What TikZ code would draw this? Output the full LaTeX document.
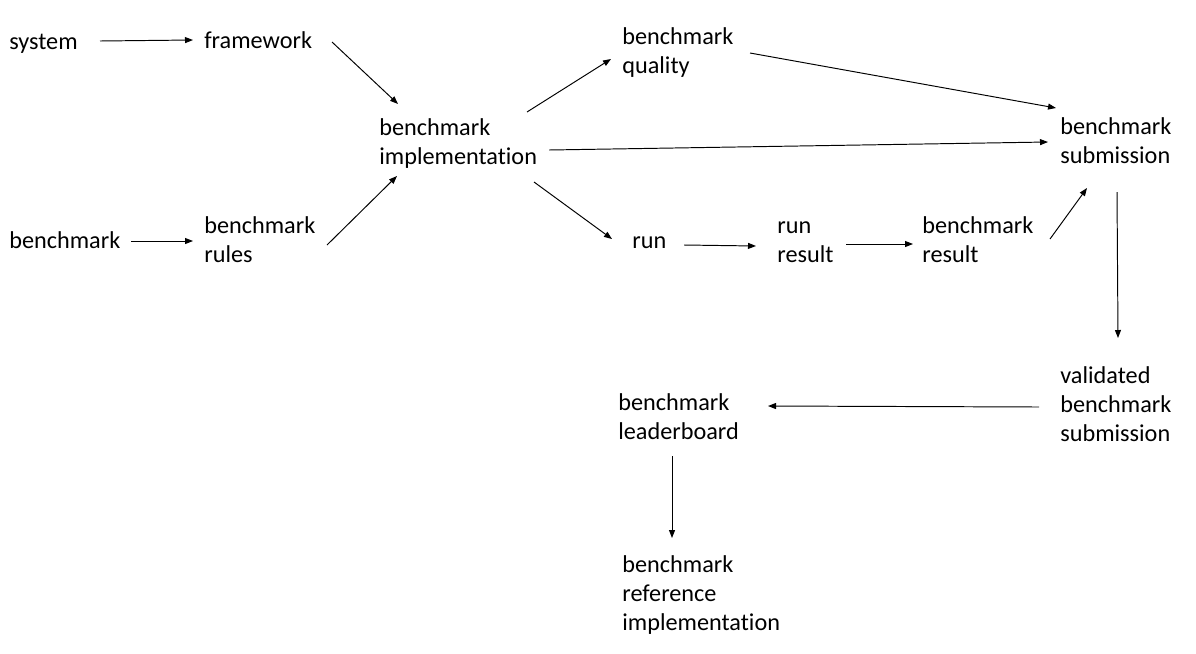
\documentclass[tikz,border=0pt]{standalone}
\usepackage{fontspec}
\setmainfont[Ligatures=NoCommon]{Carlito}
\usetikzlibrary{calc,arrows.meta}

\begin{document}
\begin{tikzpicture}[x=0.02cm, y=-0.02cm,
		lbl/.style={anchor=base west, inner sep=0, align=left, font=\fontsize{13.8}{16.44}\selectfont},
		arr/.style={line width=0.55pt, -{Triangle[length=1.6mm,width=1.2mm]}}]
			%%%%% START %%%%%
			
			\useasboundingbox (0, 0) rectangle (1196, 653);
			
			% base = last line of each label
			\node[lbl] (sys) at (9, 49) {system};
			\node[lbl] (fw) at (204, 48) {framework};
			\node[lbl] (bm) at (9, 248) {benchmark};
			\node[lbl] (rules) at (204, 262) {benchmark\\rules};
			\node[lbl] (impl) at (379, 164) {benchmark\\implementation};
			\node[lbl] (qual) at (622, 73) {benchmark\\quality};
			\node[lbl] (sub) at (1060, 163) {benchmark\\submission};
			\node[lbl] (run) at (632, 248) {run};
			\node[lbl] (rres) at (777, 262) {run\\result};
			\node[lbl] (bres) at (922, 262) {benchmark\\result};
			\node[lbl] (val) at (1060, 441) {validated\\benchmark\\submission};
			\node[lbl] (lead) at (618, 439) {benchmark\\leaderboard};
			\node[lbl] (ref) at (622, 630) {benchmark\\reference\\implementation};
			
			\draw[arr] ($(sys.base west)+(91,-8)$) -- ($(fw.base west)+(-11,-8)$);
			\draw[arr] ($(fw.base west)+(128,-6)$) -- ($(impl.base west)+(19,-60)$);
			\draw[arr] ($(bm.base west)+(122,-7)$) -- ($(rules.base west)+(-11,-21)$);
			\draw[arr] ($(rules.base west)+(123,-17)$) -- ($(impl.base west)+(18,12)$);
			
			\draw[arr] ($(impl.base west)+(148,-52)$) -- ($(qual.base west)+(-11,-14)$);
			\draw[arr] ($(impl.base west)+(170,-14)$) -- ($(sub.base west)+(-12,-21)$);
			\draw[arr] ($(qual.base west)+(128,-20)$) -- ($(sub.base west)+(-4,-55)$);
			\draw[arr] ($(impl.base west)+(155,18)$) -- ($(run.base west)+(-20,-9)$);
			
			\draw[arr] ($(run.base west)+(52,-3)$) -- ($(rres.base west)+(-21,-16)$);
			\draw[arr] ($(rres.base west)+(69,-18)$) -- ($(bres.base west)+(-9,-18)$);
			\draw[arr] ($(bres.base west)+(128,-23)$) -- ($(sub.base west)+(27,25)$);
			
			\draw[arr] ($(sub.base west)+(57,29)$) -- ($(val.base west)+(58,-103)$);
			\draw[arr] ($(val.base west)+(-21,-34)$) -- ($(lead.base west)+(150,-33)$);
			\draw[arr] ($(lead.base west)+(54,17)$) -- ($(ref.base west)+(50,-92)$);
			
			%%%%% END %%%%%
		\end{tikzpicture}
\end{document}
